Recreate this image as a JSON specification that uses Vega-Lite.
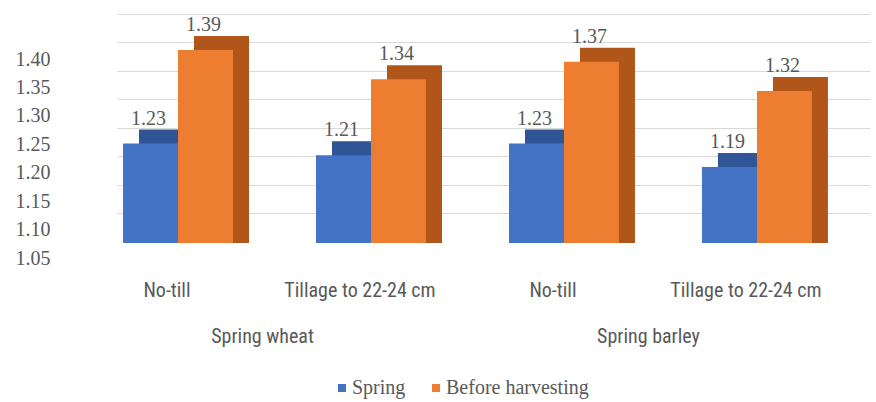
{
  "$schema": "https://vega.github.io/schema/vega-lite/v6.json",
  "width": 753,
  "height": 234,
  "autosize": {"type": "none"},
  "padding": {"left": 117, "top": 9, "right": 6, "bottom": 159},
  "background": "white",
  "config": {"view": {"stroke": null}},
  "data": {
    "values": [
      {"crop": "Spring wheat", "tillage": "No-till", "key": "Spring wheat|No-till", "series": "Spring", "value": 1.23},
      {"crop": "Spring wheat", "tillage": "No-till", "key": "Spring wheat|No-till", "series": "Before harvesting", "value": 1.39},
      {"crop": "Spring wheat", "tillage": "Tillage to 22-24 cm", "key": "Spring wheat|Tillage to 22-24 cm", "series": "Spring", "value": 1.21},
      {"crop": "Spring wheat", "tillage": "Tillage to 22-24 cm", "key": "Spring wheat|Tillage to 22-24 cm", "series": "Before harvesting", "value": 1.34},
      {"crop": "Spring barley", "tillage": "No-till", "key": "Spring barley|No-till", "series": "Spring", "value": 1.23},
      {"crop": "Spring barley", "tillage": "No-till", "key": "Spring barley|No-till", "series": "Before harvesting", "value": 1.37},
      {"crop": "Spring barley", "tillage": "Tillage to 22-24 cm", "key": "Spring barley|Tillage to 22-24 cm", "series": "Spring", "value": 1.19},
      {"crop": "Spring barley", "tillage": "Tillage to 22-24 cm", "key": "Spring barley|Tillage to 22-24 cm", "series": "Before harvesting", "value": 1.32}
    ]
  },
  "layer": [
    {
      "mark": {"type": "rule", "opacity": 0},
      "encoding": {
        "y": {
          "field": "value", "type": "quantitative",
          "scale": {"domain": [0.9973, 1.4088], "zero": false, "nice": false},
          "axis": {
            "orient": "left", "title": null, "values": [1.05, 1.1, 1.15, 1.2, 1.25, 1.3, 1.35, 1.4],
            "format": ".2f", "grid": true, "gridColor": "#D9D9D9", "gridWidth": 1,
            "domain": false, "ticks": false, "labelPadding": 67, "labelOffset": 45,
            "labelFont": "Liberation Serif", "labelFontSize": 20, "labelColor": "#595959",
            "labelOverlap": false
          }
        }
      }
    },
    {
      "mark": {"type": "bar", "opacity": 0},
      "encoding": {
        "x": {
          "field": "crop", "type": "nominal", "sort": ["Spring wheat", "Spring barley"],
          "scale": {"paddingInner": 0.049, "paddingOuter": 0},
          "axis": {
            "orient": "bottom", "title": null, "domain": false, "ticks": false, "labelAngle": 0,
            "labelPadding": 83, "labelOffset": -38,
            "labelFont": "Liberation Sans Narrow, Roboto Condensed, Liberation Sans", "labelFontSize": 20, "labelColor": "#595959"
          }
        }
      }
    },
    {
      "encoding": {
        "x": {
          "field": "key", "type": "nominal",
          "sort": ["Spring wheat|No-till", "Spring wheat|Tillage to 22-24 cm", "Spring barley|No-till", "Spring barley|Tillage to 22-24 cm"],
          "scale": {"paddingInner": 0.43, "paddingOuter": 0.166, "align": 0.094},
          "axis": {
            "orient": "bottom", "title": null, "domain": false, "ticks": false, "labelAngle": 0,
            "labelPadding": 37, "labelOffset": -11,
            "labelExpr": "split(datum.label, '|')[1]",
            "labelFont": "Liberation Sans Narrow, Roboto Condensed, Liberation Sans", "labelFontSize": 20, "labelColor": "#595959"
          }
        },
        "y": {
          "field": "value", "type": "quantitative",
          "scale": {"domain": [1.06, 1.46], "zero": false, "nice": false},
          "axis": null
        }
      },
      "layer": [
        {
          "mark": {"type": "bar", "yOffset": -14},
          "encoding": {
            "xOffset": {
              "field": "series", "type": "nominal", "sort": ["Spring", "Before harvesting"],
              "scale": {"domain": ["Spring", "Before harvesting"], "range": [16, 126], "paddingInner": 0, "paddingOuter": 0}
            },
            "y2": {"datum": 1.06},
            "color": {
              "field": "series", "type": "nominal", "sort": ["Spring", "Before harvesting"],
              "scale": {"domain": ["Spring", "Before harvesting"], "range": ["#2F5597", "#B0561B"]},
              "legend": null
            }
          }
        },
        {
          "mark": {"type": "bar"},
          "encoding": {
            "xOffset": {
              "field": "series", "type": "nominal", "sort": ["Spring", "Before harvesting"],
              "scale": {"domain": ["Spring", "Before harvesting"], "paddingInner": 0, "paddingOuter": 0}
            },
            "y2": {"datum": 1.06},
            "color": {
              "field": "series", "type": "nominal", "sort": ["Spring", "Before harvesting"],
              "scale": {"domain": ["Spring", "Before harvesting"], "range": ["#4472C4", "#ED7D31"]},
              "legend": {
                "title": null, "orient": "none", "legendX": 215, "legendY": 369, "direction": "horizontal",
                "symbolType": "square", "symbolSize": 64, "labelOffset": 0, "columnPadding": 20,
                "labelFont": "Liberation Serif", "labelFontSize": 20, "labelColor": "#595959",
                "labelLimit": 400, "padding": 0
              }
            }
          }
        },
        {
          "mark": {"type": "text", "dy": -25, "dx": -2, "baseline": "middle", "font": "Liberation Serif", "fontSize": 20, "color": "#595959"},
          "encoding": {
            "xOffset": {
              "field": "series", "type": "nominal", "sort": ["Spring", "Before harvesting"],
              "scale": {"type": "band", "domain": ["Spring", "Before harvesting"], "paddingInner": 0, "paddingOuter": 0}
            },
            "text": {"field": "value", "type": "quantitative", "format": ".2f"}
          }
        }
      ],
      "resolve": {"scale": {"color": "independent", "xOffset": "independent"}}
    }
  ],
  "resolve": {
    "scale": {"x": "independent", "y": "independent"},
    "axis": {"x": "independent", "y": "independent"}
  }
}
